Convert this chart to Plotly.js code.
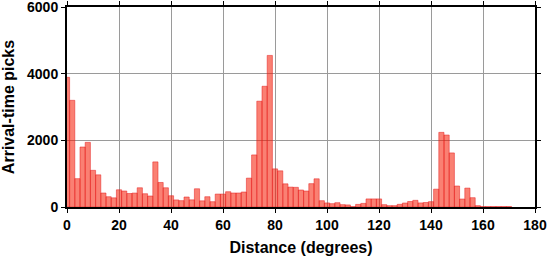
<!DOCTYPE html>
<html>
<head>
<meta charset="utf-8">
<script src="https://cdn.plot.ly/plotly-3.0.1.min.js"></script>
<style>html,body{margin:0;padding:0;background:#fff;}#chart{width:547px;height:258px;}</style>
</head>
<body>
<div id="chart"></div>
<script>
// Bin centres (degrees), 2-degree bins
const binCenters = [0,2,4,6,8,10,12,14,16,18,20,22,24,26,28,30,32,34,36,38,40,42,44,46,48,50,52,54,56,58,60,62,64,66,68,70,72,74,76,78,80,82,84,86,88,90,92,94,96,98,100,102,104,106,108,110,112,114,116,118,120,122,124,126,128,130,132,134,136,138,140,142,144,146,148,150,152,154,156,158,160,162,164,166,168,170];
// Arrival-time pick counts per bin
const pickCounts = [3890,3200,850,1800,1940,1100,965,420,308,275,517,480,405,418,577,398,330,1353,736,577,338,212,190,300,215,547,185,308,159,388,388,458,420,420,450,866,1562,3174,3622,4547,1144,1085,695,597,590,510,480,700,846,189,122,100,129,70,62,12,78,108,242,242,242,70,40,40,80,119,165,200,122,135,160,535,2239,2159,1622,630,239,567,279,40,12,12,12,12,12,12];
const xTicks = [0,20,40,60,80,100,120,140,160,180];
const yTicks = [0,2000,4000,6000];

const fontFam = '"Liberation Sans", Arial, Helvetica, sans-serif';

const trace = {
  type: 'bar',
  x: binCenters,
  y: pickCounts,
  width: 2,
  marker: {color: 'rgba(246,24,0,0.55)', line: {color: 'rgba(230,30,30,0.85)', width: 0.6}},
  hoverinfo: 'skip'
};

const layout = {
  width: 547, height: 258,
  margin: {l: 67, r: 12, t: 7, b: 51, pad: 0},
  paper_bgcolor: '#fff', plot_bgcolor: '#fff',
  showlegend: false,
  bargap: 0,
  font: {family: fontFam, size: 14, color: '#000', weight: 'bold'},
  xaxis: {
    range: [0, 180], tickvals: xTicks, ticktext: xTicks.map(String),
    showgrid: true, gridcolor: '#9a9a9a', gridwidth: 1,
    zeroline: false, showline: true, linecolor: '#000', linewidth: 2,
    mirror: 'ticks', ticks: 'outside', ticklen: 4, tickwidth: 1, tickcolor: '#000',
    ticklabeloverflow: 'allow',
    tickfont: {family: fontFam, size: 14, weight: 'bold', color: '#000'},
    title: {text: 'Distance (degrees)', font: {family: fontFam, size: 16, weight: 'bold', color: '#000'}, standoff: 10},
    layer: 'below traces'
  },
  yaxis: {
    range: [0, 6000], tickvals: yTicks, ticktext: yTicks.map(String),
    showgrid: true, gridcolor: '#9a9a9a', gridwidth: 1,
    zeroline: false, showline: true, linecolor: '#000', linewidth: 2,
    mirror: 'ticks', ticks: 'outside', ticklen: 4, tickwidth: 1, tickcolor: '#000',
    ticklabeloverflow: 'allow',
    tickfont: {family: fontFam, size: 14, weight: 'bold', color: '#000'},
    title: {text: 'Arrival-time picks', font: {family: fontFam, size: 16, weight: 'bold', color: '#000'}, standoff: 8}
  }
};

Plotly.newPlot('chart', [trace], layout, {displayModeBar: false, staticPlot: true});
</script>
</body>
</html>
